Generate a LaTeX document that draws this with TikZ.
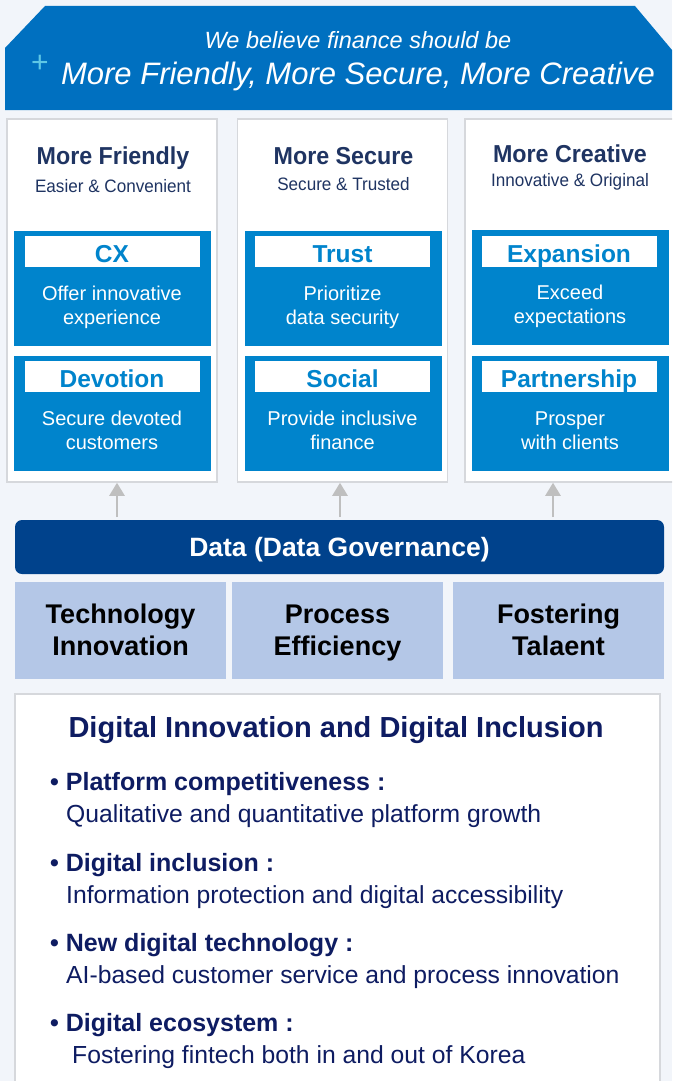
\documentclass[tikz,border=0pt]{standalone}
\usepackage{fontspec}
\setmainfont{Liberation Sans}
\newfontfamily\narrowfont[FakeStretch=0.95]{Liberation Sans}
\usepackage{xcolor}
\usetikzlibrary{arrows.meta, calc, positioning}
\definecolor{pagebg}{RGB}{242,245,250}
\definecolor{bannerblue}{RGB}{0,112,192}
\definecolor{plusblue}{RGB}{95,200,230}
\definecolor{boxblue}{RGB}{0,132,204}
\definecolor{titlenavy}{RGB}{31,52,98}
\definecolor{datanavy}{RGB}{0,66,140}
\definecolor{pillarblue}{RGB}{180,199,231}
\definecolor{textnavy}{RGB}{14,28,98}
\definecolor{arrowgray}{RGB}{191,191,191}
\definecolor{framegray}{RGB}{214,216,220}
\newcommand{\topstrut}{\rule{0pt}{28pt}}

\begin{document}
\begin{tikzpicture}[x=1pt, y=-1pt,
  colframe/.style={draw=framegray, fill=white, line width=1.5pt, minimum width=210, minimum height=363, inner sep=0},
  coltitle/.style={text=titlenavy, font=\narrowfont\bfseries\fontsize{24.5}{24}\selectfont},
  colsub/.style={text=titlenavy, font=\narrowfont\fontsize{18}{18}\selectfont},
  bluebox/.style={fill=boxblue, minimum width=197, minimum height=115, inner sep=0},
  labelbox/.style={fill=white, text=boxblue, font=\bfseries\fontsize{24.5}{24}\selectfont, minimum width=175, minimum height=31, text height=21.5, text depth=0, inner sep=0},
  bodytext/.style={text=white, align=center, font=\fontsize{20}{24}\selectfont},
  uparrow/.style={draw=arrowgray, line width=2.5pt, -{Triangle[length=13pt, width=15pt]}},
  pillar/.style={fill=pillarblue, minimum width=211, minimum height=97, inner sep=0, align=center, font=\bfseries\fontsize{27}{32}\selectfont},
  bullethead/.style={anchor=base west, inner sep=0, text=textnavy, font=\bfseries\fontsize{25}{25}\selectfont},
  bulletsub/.style={anchor=base west, inner sep=0, text=textnavy, font=\fontsize{24.7}{25}\selectfont}]
  \useasboundingbox (0,0) rectangle (672,1081);
  \clip (0,0) rectangle (672,1081);
  \fill[pagebg] (0,0) rectangle (672,1081);

  % Banner
  \fill[bannerblue] (45,6) -- (635,6) -- (672,50) -- (672,110) -- (5,110) -- (5,48) -- cycle;
  \node[text=white, font=\itshape\fontsize{23.5}{23}\selectfont] (believe) at (358,40) {We believe finance should be};
  \node[text=white, font=\itshape\fontsize{31}{31}\selectfont] (motto) at (358,76) {More Friendly, More Secure, More Creative};
  \node[text=plusblue, font=\fontsize{30}{30}\selectfont] (plus) at (40,64) {+};

  % More Friendly
  \begin{scope}[shift={(112,0)}]
    \node[colframe] (friendly) at (0,300.5) {};
    \node[coltitle] at (1,158) {More Friendly};
    \node[colsub] at (1,186) {Easier \& Convenient};
    \node[bluebox] (cxbox) at (0.5,288.5) {};
    \node[labelbox] (cx) at (0,251.5) {CX};
    \node[bodytext] at (0,308) {\strut Offer innovative\\experience\strut};
    \node[bluebox] (devotionbox) at (0.5,413.5) {};
    \node[labelbox] (devotion) at (0,376.5) {Devotion};
    \node[bodytext] at (0,433) {\strut Secure devoted\\customers\strut};
  \end{scope}

  % More Secure
  \begin{scope}[shift={(342.5,0)}]
    \node[colframe] (secure) at (0,300.5) {};
    \node[coltitle] at (1,156) {More Secure};
    \node[colsub] at (1,184) {Secure \& Trusted};
    \node[bluebox] (trustbox) at (0.5,288.5) {};
    \node[labelbox] (trust) at (0,251.5) {Trust};
    \node[bodytext] at (0,308) {\strut Prioritize\\data security\strut};
    \node[bluebox] (socialbox) at (0.5,413.5) {};
    \node[labelbox] (social) at (0,376.5) {Social};
    \node[bodytext] at (0,433) {\strut Provide inclusive\\finance\strut};
  \end{scope}

  % More Creative
  \begin{scope}[shift={(570,0)}]
    \node[colframe, minimum width=222] (creative) at (6,300.5) {};
    \node[coltitle] at (0,154) {More Creative};
    \node[colsub] at (0,182) {Innovative \& Original};
    \node[bluebox] (expansionbox) at (0.5,287.5) {};
    \node[labelbox] (expansion) at (-1,251.5) {Expansion};
    \node[bodytext] at (0,307) {\strut Exceed\\expectations\strut};
    \node[bluebox] (partnershipbox) at (0.5,413.5) {};
    \node[labelbox] (partnership) at (-1,376.5) {Partnership};
    \node[bodytext] at (0,433) {\strut Prosper\\with clients\strut};
  \end{scope}

  % Data layer
  \node[fill=datanavy, rounded corners=7pt, minimum width=649, minimum height=54, inner sep=0,
        text height=19, text depth=0, text=white, font=\bfseries\fontsize{26.5}{26}\selectfont] (data) at (339.5,547) {Data (Data Governance)};
  \coordinate (up1) at (117,517);
  \coordinate (up2) at (340,517);
  \coordinate (up3) at (553,517);
  \draw[uparrow] (up1) -- (up1 |- friendly.south);
  \draw[uparrow] (up2) -- (up2 |- secure.south);
  \draw[uparrow] (up3) -- (up3 |- creative.south);

  % Pillars
  \node[pillar] (technology) at (120.5,630.5) {\topstrut Technology\\Innovation\strut};
  \node[pillar] (process) at (337.5,630.5) {\topstrut Process\\Efficiency\strut};
  \node[pillar] (talent) at (558.5,630.5) {\topstrut Fostering\\Talaent\strut};

  % Digital innovation box
  \node[draw=framegray, fill=white, line width=1.5pt, minimum width=645, minimum height=400, inner sep=0] (digital) at (337.5,894) {};
  \node[text=textnavy, font=\bfseries\fontsize{29}{29}\selectfont] (digitaltitle) at (336,730) {Digital Innovation and Digital Inclusion};
  \node[bullethead] at (50,790) {• Platform competitiveness :};
  \node[bulletsub] at (66,822) {Qualitative and quantitative platform growth};
  \node[bullethead] at (50,871) {• Digital inclusion :};
  \node[bulletsub] at (66,903) {Information protection and digital accessibility};
  \node[bullethead] at (50,951) {• New digital technology :};
  \node[bulletsub] at (66,983) {AI-based customer service and process innovation};
  \node[bullethead] at (50,1031) {• Digital ecosystem :};
  \node[bulletsub] at (72,1063) {Fostering fintech both in and out of Korea};
\end{tikzpicture}
\end{document}
